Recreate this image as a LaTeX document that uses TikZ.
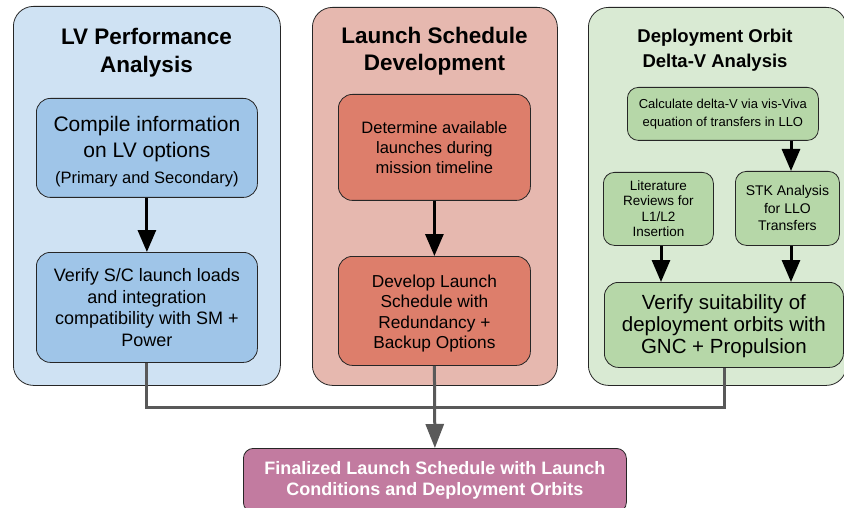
\documentclass[tikz,border=0pt]{standalone}
\usepackage{fontspec}
\setmainfont{Liberation Sans}
\usetikzlibrary{arrows.meta}

\definecolor{blueOuter}{HTML}{CFE2F3}
\definecolor{blueInner}{HTML}{9FC5E8}
\definecolor{redOuter}{HTML}{E6B8AF}
\definecolor{redInner}{HTML}{DD7E6B}
\definecolor{greenOuter}{HTML}{D9EAD3}
\definecolor{greenInner}{HTML}{B6D7A8}
\definecolor{finalFill}{HTML}{C27BA0}
\definecolor{busGray}{HTML}{595959}

\newcommand{\fs}[2]{\fontsize{#1}{#2}\selectfont}

\tikzset{
  panel/.style={draw=black!85, line width=0.8pt, rounded corners=20pt,
    anchor=north west, inner sep=0pt},
  stepbox/.style={draw=black!85, line width=0.8pt, rounded corners=14pt,
    anchor=north west, align=center, inner sep=2pt},
  paneltitle/.style={align=center},
  flowarrow/.style={line width=3pt, black,
    -{Triangle[length=22pt,width=18pt]}},
  busline/.style={line width=3pt, busGray, line join=miter},
  busarrow/.style={busline, -{Triangle[length=24pt,width=18pt]}},
}

\begin{document}
\begin{tikzpicture}[x=1pt,y=-1pt]
\useasboundingbox (0,0) rectangle (844,508);
\clip (0,0) rectangle (844,508);

% panels
\node[panel, fill=blueOuter, minimum width=267pt, minimum height=379pt] (pL) at (13,6) {};
\node[panel, fill=redOuter, minimum width=245pt, minimum height=378pt] (pM) at (312,7) {};
\node[panel, fill=greenOuter, minimum width=258pt, minimum height=378pt] (pR) at (588,7) {};

% panel titles
\node[paneltitle, font={\bfseries\fs{22.5}{28}}] (tL) at (146.5,53) {LV Performance\\Analysis};
\node[paneltitle, font={\bfseries\fs{22.5}{27}}] (tM) at (434.5,51) {Launch Schedule\\Development};
\node[paneltitle, font={\bfseries\fs{18.5}{25}}] (tR) at (715,50) {Deployment Orbit\\Delta-V Analysis};

% LV performance steps
\node[stepbox, fill=blueInner, minimum width=221pt, minimum height=99pt, font=\fs{21}{26}] (L1) at (36,98)
  {\rule{0pt}{22pt}Compile information\\on LV options\\\fs{16.5}{22}(Primary and Secondary)};
\node[stepbox, fill=blueInner, minimum width=221pt, minimum height=110pt, font=\fs{18}{21.5}] (L2) at (36,252)
  {Verify S/C launch loads\\and integration\\compatibility with SM +\\Power};

% launch schedule steps
\node[stepbox, fill=redInner, minimum width=192pt, minimum height=106pt, font=\fs{16.5}{20}] (M1) at (338,94)
  {Determine available\\launches during\\mission timeline};
\node[stepbox, fill=redInner, minimum width=192pt, minimum height=109pt, font=\fs{17.3}{20.5}] (M2) at (338,256)
  {\rule{0pt}{17.5pt}Develop Launch\\Schedule with\\Redundancy +\\Backup Options};

% deployment orbit steps
\node[stepbox, fill=greenInner, minimum width=191pt, minimum height=53pt, rounded corners=11pt, font=\fs{13}{18}] (R1) at (627,87)
  {Calculate delta-V via vis-Viva\\equation of transfers in LLO};
\node[stepbox, fill=greenInner, minimum width=110pt, minimum height=73pt, rounded corners=11pt, font=\fs{13.5}{15.5}] (R2) at (603,172)
  {Literature\\Reviews for\\L1/L2\\Insertion};
\node[stepbox, fill=greenInner, minimum width=104pt, minimum height=74pt, rounded corners=11pt, font=\fs{14}{17.5}] (R3) at (735,171)
  {STK Analysis\\for LLO\\Transfers};
\node[stepbox, fill=greenInner, minimum width=239pt, minimum height=85pt, font=\fs{20.5}{22}] (R4) at (604,282)
  {\rule{0pt}{18pt}Verify suitability of\\deployment orbits with\\GNC + Propulsion};

% final result
\node[stepbox, fill=finalFill, text=white, font={\bfseries\fs{18}{21}}, minimum width=383pt, minimum height=64pt, rounded corners=10pt] (F) at (243,448)
  {Finalized Launch Schedule with Launch\\Conditions and Deployment Orbits};

% arrows inside panels
\coordinate (stkx) at (791,0);
\coordinate (litx) at (661,0);
\draw[flowarrow] (L1.south) -- (L2.north);
\draw[flowarrow] (M1.south) -- (M2.north);
\draw[flowarrow] (R1.south -| stkx) -- (R3.north -| stkx);
\draw[flowarrow] (R2.south -| litx) -- (R4.north -| litx);
\draw[flowarrow] (R3.south -| stkx) -- (R4.north -| stkx);

% merging bus to the final result
\coordinate (bus) at (0,407);
\coordinate (rbus) at (724,0);
\draw[busline] (L2.south) -- (L2.south |- bus) -- (rbus |- bus) -- (rbus |- R4.south);
\draw[busarrow] (M2.south) -- (F.north);
\end{tikzpicture}
\end{document}
